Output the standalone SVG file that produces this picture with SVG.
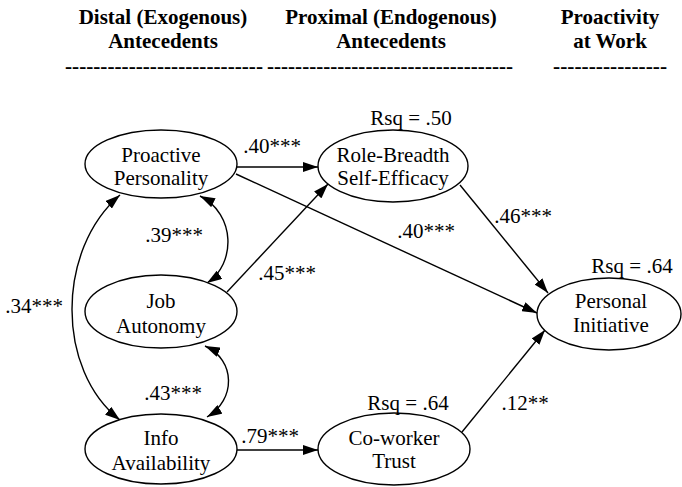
<svg xmlns="http://www.w3.org/2000/svg" width="682" height="487" viewBox="0 0 682 487">
<defs>
<marker id="ah" viewBox="0 0 15 10" refX="15" refY="5" markerWidth="15" markerHeight="10" markerUnits="userSpaceOnUse" orient="auto-start-reverse">
<path d="M0,0 L15,5 L0,10 z" fill="#000"/>
</marker>
</defs>
<rect width="682" height="487" fill="#fff"/>
<g id="headers" font-weight="bold" font-size="21" text-anchor="middle" fill="#000">
<text style="font-family:'Liberation Serif',serif;font-weight:bold" x="163" y="24">Distal (Exogenous)</text>
<text style="font-family:'Liberation Serif',serif;font-weight:bold" x="163" y="48">Antecedents</text>
<text style="font-family:'Liberation Serif',serif;font-weight:bold" x="164" y="73" textLength="198" lengthAdjust="spacingAndGlyphs">----------------------------</text>
<text style="font-family:'Liberation Serif',serif;font-weight:bold" x="391" y="24">Proximal (Endogenous)</text>
<text style="font-family:'Liberation Serif',serif;font-weight:bold" x="391" y="48">Antecedents</text>
<text style="font-family:'Liberation Serif',serif;font-weight:bold" x="390" y="73" textLength="246" lengthAdjust="spacingAndGlyphs">-----------------------------------</text>
<text style="font-family:'Liberation Serif',serif;font-weight:bold" x="610" y="24">Proactivity</text>
<text style="font-family:'Liberation Serif',serif;font-weight:bold" x="610" y="48">at Work</text>
<text style="font-family:'Liberation Serif',serif;font-weight:bold" x="610" y="73" textLength="114" lengthAdjust="spacingAndGlyphs">----------------</text>
</g>
<g id="connectors" fill="none" stroke="#000" stroke-width="1.4">
<path d="M237,167 L318,167" marker-end="url(#ah)"/>
<path d="M236,174 L537,313" marker-end="url(#ah)"/>
<path d="M227,292 L328,184" marker-end="url(#ah)"/>
<path d="M460,185 L548,293" marker-end="url(#ah)"/>
<path d="M237,450 L318,450" marker-end="url(#ah)"/>
<path d="M462,432 L545,330" marker-end="url(#ah)"/>
<path d="M200,196 C236,214 236,264 207,283" marker-start="url(#ah)" marker-end="url(#ah)"/>
<path d="M205,346 C236,360 236,400 207,417" marker-start="url(#ah)" marker-end="url(#ah)"/>
<path d="M120,195 C56,250 56,370 120,420" marker-start="url(#ah)" marker-end="url(#ah)"/>
<g font-size="21" text-anchor="middle" fill="#000" stroke="none">
<text style="font-family:'Liberation Serif',serif" x="272" y="153">.40***</text>
<text style="font-family:'Liberation Serif',serif" x="426" y="238">.40***</text>
<text style="font-family:'Liberation Serif',serif" x="287" y="280">.45***</text>
<text style="font-family:'Liberation Serif',serif" x="523" y="223">.46***</text>
<text style="font-family:'Liberation Serif',serif" x="270" y="443">.79***</text>
<text style="font-family:'Liberation Serif',serif" x="525" y="410">.12**</text>
<text style="font-family:'Liberation Serif',serif" x="174" y="242">.39***</text>
<text style="font-family:'Liberation Serif',serif" x="173" y="400">.43***</text>
<text style="font-family:'Liberation Serif',serif" x="34" y="313">.34***</text>
</g>
</g>
<g id="nodes" font-size="21" text-anchor="middle" fill="#000">
<g id="proactive-personality">
<ellipse cx="161" cy="164" rx="76" ry="34" fill="#fff" stroke="#000" stroke-width="1.4"/>
<text style="font-family:'Liberation Serif',serif" x="161" y="162">Proactive</text>
<text style="font-family:'Liberation Serif',serif" x="161" y="185">Personality</text>
</g>
<g id="job-autonomy">
<ellipse cx="161" cy="311.5" rx="76" ry="36.5" fill="#fff" stroke="#000" stroke-width="1.4"/>
<text style="font-family:'Liberation Serif',serif" x="161" y="308">Job</text>
<text style="font-family:'Liberation Serif',serif" x="161" y="333">Autonomy</text>
</g>
<g id="info-availability">
<ellipse cx="161" cy="449" rx="76" ry="35" fill="#fff" stroke="#000" stroke-width="1.4"/>
<text style="font-family:'Liberation Serif',serif" x="161" y="445">Info</text>
<text style="font-family:'Liberation Serif',serif" x="161" y="470">Availability</text>
</g>
<g id="role-breadth-self-efficacy">
<ellipse cx="393" cy="166" rx="75" ry="36" fill="#fff" stroke="#000" stroke-width="1.4"/>
<text style="font-family:'Liberation Serif',serif" x="393" y="162">Role-Breadth</text>
<text style="font-family:'Liberation Serif',serif" x="393" y="185">Self-Efficacy</text>
<text style="font-family:'Liberation Serif',serif" x="411" y="125">Rsq = .50</text>
</g>
<g id="co-worker-trust">
<ellipse cx="394" cy="449" rx="76" ry="36" fill="#fff" stroke="#000" stroke-width="1.4"/>
<text style="font-family:'Liberation Serif',serif" x="394" y="445">Co-worker</text>
<text style="font-family:'Liberation Serif',serif" x="394" y="468">Trust</text>
<text style="font-family:'Liberation Serif',serif" x="408" y="410">Rsq = .64</text>
</g>
<g id="personal-initiative">
<ellipse cx="609" cy="314" rx="72" ry="36" fill="#fff" stroke="#000" stroke-width="1.4"/>
<text style="font-family:'Liberation Serif',serif" x="611" y="308">Personal</text>
<text style="font-family:'Liberation Serif',serif" x="611" y="332">Initiative</text>
<text style="font-family:'Liberation Serif',serif" x="632" y="273">Rsq = .64</text>
</g>
</g>
</svg>
